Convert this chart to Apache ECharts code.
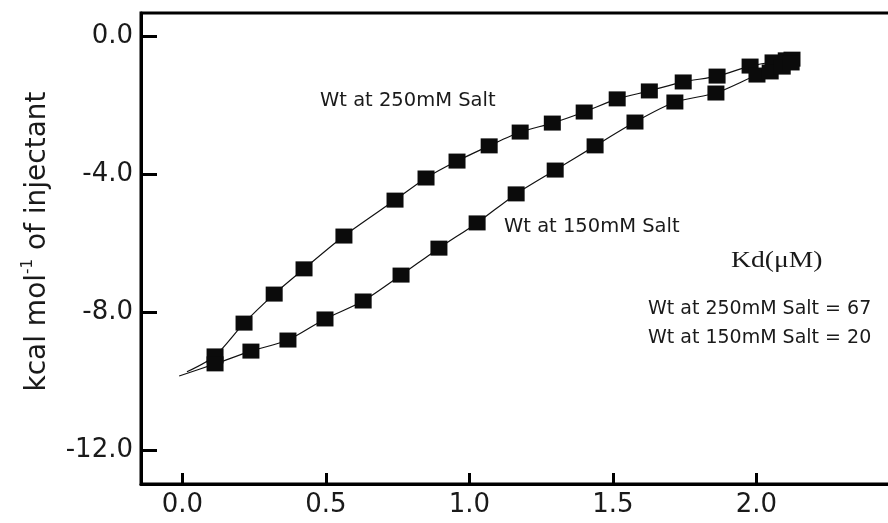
<!DOCTYPE html>
<html>
<head>
<meta charset="utf-8">
<title>ITC binding isotherms</title>
<script src="https://cdn.jsdelivr.net/npm/echarts@6/dist/echarts.min.js"></script>
<style>
  html, body { margin: 0; padding: 0; background: #fff; }
  #chart { width: 888px; height: 523px; }
</style>
</head>
<body>
<div id="chart"></div>
<script>
// Tick positions
const xTicks = [0.0, 0.5, 1.0, 1.5, 2.0];
const yTicks = [0.0, -4.0, -8.0, -12.0];

// Integrated heats per injection (molar ratio, kcal/mol of injectant)
const salt250 = [
  [0.114, -9.26], [0.215, -8.31], [0.320, -7.47], [0.424, -6.74], [0.563, -5.79],
  [0.741, -4.75], [0.849, -4.11], [0.957, -3.62], [1.069, -3.18], [1.177, -2.78],
  [1.289, -2.52], [1.400, -2.20], [1.515, -1.82], [1.627, -1.59], [1.745, -1.33],
  [1.863, -1.16], [1.978, -0.87], [2.058, -0.75], [2.104, -0.69], [2.124, -0.67]
];
const salt150 = [
  [0.114, -9.49], [0.239, -9.12], [0.368, -8.80], [0.497, -8.19], [0.630, -7.67],
  [0.762, -6.92], [0.894, -6.14], [1.027, -5.41], [1.163, -4.57], [1.299, -3.88],
  [1.438, -3.18], [1.577, -2.49], [1.716, -1.91], [1.859, -1.65], [2.002, -1.13],
  [2.048, -1.04], [2.090, -0.90], [2.121, -0.78]
];

// Starting points of the fitted binding curves
const fitStart250 = [0.016, -9.72];
const fitStart150 = [-0.011, -9.84];

// Annotation text
const label250 = 'Wt at 250mM Salt';
const label150 = 'Wt at 150mM Salt';
const kdTitle = 'Kd(\u03bcM)';
const kdLines = ['Wt at 250mM Salt = 67', 'Wt at 150mM Salt = 20'];

const FONT = '"DejaVu Sans", "Open Sans", sans-serif';
const INK = '#1a1a1a';

const chart = echarts.init(document.getElementById('chart'), null, { renderer: 'canvas' });

const fitLine = (start, pts) => ({
  type: 'line',
  data: [start].concat(pts),
  smooth: 0.25,
  symbol: 'none',
  lineStyle: { color: '#111', width: 1.2 },
  z: 2,
  silent: true
});
const squares = (pts) => ({
  type: 'scatter',
  data: pts,
  symbol: 'rect',
  symbolSize: [17, 15],
  itemStyle: { color: '#0b0b0b', opacity: 1 },
  z: 3,
  silent: true
});

chart.setOption({
  animation: false,
  backgroundColor: '#fff',
  // the frame runs past the right edge of the canvas
  grid: {
    left: 141, top: 13, width: 777, bottom: 39,
    outerBoundsMode: 'none',
    containLabel: false,
    show: true, borderColor: '#000', borderWidth: 3, backgroundColor: 'transparent'
  },
  xAxis: {
    type: 'value',
    min: -0.144, max: 2.563,
    axisLine: { show: true, onZero: false, lineStyle: { color: '#000', width: 3 } },
    axisTick: { show: true, inside: true, length: 11, lineStyle: { color: '#000', width: 3 }, customValues: xTicks },
    axisLabel: {
      customValues: xTicks, margin: 8,
      formatter: v => v.toFixed(1),
      fontFamily: FONT, fontSize: 26, color: INK
    },
    splitLine: { show: false }
  },
  yAxis: {
    type: 'value',
    min: -12.967, max: 0.666,
    axisLine: { show: true, onZero: false, lineStyle: { color: '#000', width: 3 } },
    axisTick: { show: true, inside: true, length: 16, lineStyle: { color: '#000', width: 3 }, customValues: yTicks },
    axisLabel: {
      customValues: yTicks, margin: 8,
      formatter: v => v.toFixed(1),
      fontFamily: FONT, fontSize: 26, color: INK
    },
    splitLine: { show: false },
    name: '{a|kcal mol}{s|-1}{a| of injectant}',
    nameLocation: 'middle',
    nameRotate: 90,
    nameGap: 86,
    nameTextStyle: {
      padding: [0, 0, 0, 14],
      rich: {
        a: { fontFamily: FONT, fontSize: 28, color: INK, lineHeight: 34 },
        s: { fontFamily: FONT, fontSize: 15, color: INK, lineHeight: 34, verticalAlign: 'top' }
      }
    }
  },
  series: [
    fitLine(fitStart250, salt250),
    fitLine(fitStart150, salt150),
    squares(salt250),
    squares(salt150)
  ],
  graphic: [
    { type: 'text', left: 320, top: 91, style: { text: label250, font: '19.5px ' + FONT, fill: INK } },
    { type: 'text', left: 504, top: 217, style: { text: label150, font: '19.5px ' + FONT, fill: INK } },
    { type: 'text', left: 731, top: 249, scaleX: 1.2, style: { text: kdTitle, font: '23px "Liberation Serif", "DejaVu Serif", serif', fill: INK } },
    { type: 'text', left: 648, top: 300, style: { text: kdLines[0], font: '19px ' + FONT, fill: INK } },
    { type: 'text', left: 648, top: 329, style: { text: kdLines[1], font: '19px ' + FONT, fill: INK } }
  ]
});
</script>
</body>
</html>
